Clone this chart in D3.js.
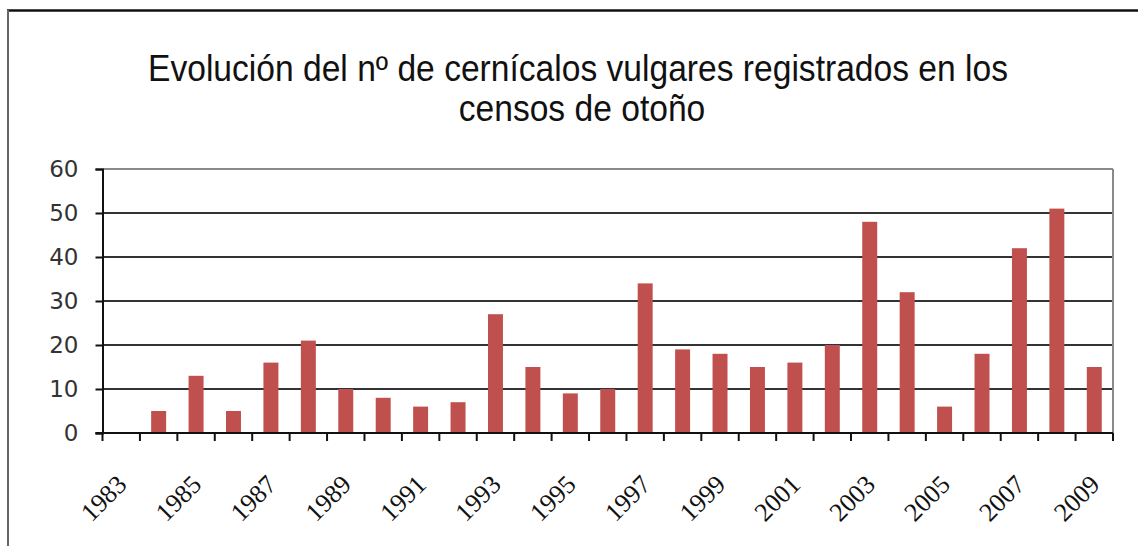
<!DOCTYPE html>
<html>
<head>
<meta charset="utf-8">
<script src="https://cdn.jsdelivr.net/npm/d3@7"></script>
<style>
  body { margin: 0; background: #fff; }
  svg { display: block; }
</style>
</head>
<body>
<svg id="chart"></svg>
<script>
// Chart data
const years = ["1983","1984","1985","1986","1987","1988","1989","1990","1991","1992","1993","1994","1995","1996",
  "1997","1998","1999","2000","2001","2002","2003","2004","2005","2006","2007","2008","2009"];
const counts = [0,5,13,5,16,21,10,8,6,7,27,15,9,10,34,19,18,15,16,20,48,32,6,18,42,51,15];
const yTicks = [0,10,20,30,40,50,60];
const titleLines = ["Evolución del nº de cernícalos vulgares registrados en los", "censos de otoño"];

const W = 1138, H = 546;
const plot = { left: 102.5, right: 1113, top: 169, bottom: 433 };

const data = years.map((y, i) => ({ year: y, value: counts[i] }));

const svg = d3.select("#chart").attr("width", W).attr("height", H);

svg.append("rect").attr("width", W).attr("height", H).attr("fill", "#fff");

// outer frame (only top and left visible)
svg.append("line").attr("x1", 7).attr("x2", W).attr("y1", 10.5).attr("y2", 10.5)
  .attr("stroke", "#111").attr("stroke-width", 2.5);
svg.append("line").attr("x1", 8).attr("x2", 8).attr("y1", 10).attr("y2", H)
  .attr("stroke", "#666").attr("stroke-width", 2);

// title
const title = svg.append("g").attr("font-family", "Liberation Sans, Arial, sans-serif")
  .attr("font-size", 36).attr("fill", "#111").attr("text-anchor", "middle");
const t1 = title.append("text").attr("x", 578).attr("y", 81).text(titleLines[0]);
const t2 = title.append("text").attr("x", 582).attr("y", 121).text(titleLines[1]);
// the original title is condensed
const sx = 860 / t1.node().getComputedTextLength();
[t1, t2].forEach(t => {
  const len = t.node().getComputedTextLength();
  t.attr("textLength", len * sx).attr("lengthAdjust", "spacingAndGlyphs");
});

const x = d3.scaleBand().domain(years).range([plot.left, plot.right])
  .paddingInner(0.6).paddingOuter(0.3);
const y = d3.scaleLinear().domain([0, 60]).range([plot.bottom, plot.top]);

// gridlines
svg.append("g").selectAll("line").data(yTicks.filter(d => d > 0)).join("line")
  .attr("x1", plot.left).attr("x2", plot.right)
  .attr("y1", d => y(d)).attr("y2", d => y(d))
  .attr("stroke", d => d === 60 ? "#8a8a8a" : "#333").attr("stroke-width", 2);

// plot border right
svg.append("line").attr("x1", plot.right).attr("x2", plot.right)
  .attr("y1", plot.top).attr("y2", plot.bottom)
  .attr("stroke", "#8a8a8a").attr("stroke-width", 2);

// bars
svg.append("g").selectAll("rect").data(data).join("rect")
  .attr("x", d => x(d.year)).attr("width", x.bandwidth())
  .attr("y", d => y(d.value)).attr("height", d => y(0) - y(d.value))
  .attr("fill", "#c0504d");

// y axis
const yAxis = svg.append("g").attr("transform", `translate(${plot.left},0)`)
  .call(d3.axisLeft(y).tickValues(yTicks).tickSize(7).tickPadding(17));
yAxis.select(".domain").attr("stroke", "#111").attr("stroke-width", 2);
yAxis.selectAll(".tick line").attr("stroke", "#111").attr("stroke-width", 2);
yAxis.selectAll("text").attr("font-family", "DejaVu Sans, Verdana, sans-serif")
  .attr("font-size", 23).attr("fill", "#333");

// x axis line and tick marks at category boundaries
const half = (x.step() - x.bandwidth()) / 2;
const bounds = years.map(d => x(d) - half).concat([plot.right]);
svg.append("line").attr("x1", plot.left - 7).attr("x2", plot.right)
  .attr("y1", plot.bottom).attr("y2", plot.bottom)
  .attr("stroke", "#111").attr("stroke-width", 2);
svg.append("g").selectAll("line").data(bounds).join("line")
  .attr("x1", d => d).attr("x2", d => d)
  .attr("y1", plot.bottom).attr("y2", plot.bottom + 8)
  .attr("stroke", "#111").attr("stroke-width", 2);

// x labels: every other year, rotated
svg.append("g").selectAll("text").data(years.filter((d, i) => i % 2 === 0)).join("text")
  .attr("transform", d => `translate(${x(d) + x.bandwidth() / 2 + 7},486) rotate(-45)`)
  .attr("text-anchor", "end")
  .attr("font-family", "Liberation Serif, Times New Roman, serif")
  .attr("font-size", 26).attr("fill", "#111")
  .text(d => d);
</script>
</body>
</html>
